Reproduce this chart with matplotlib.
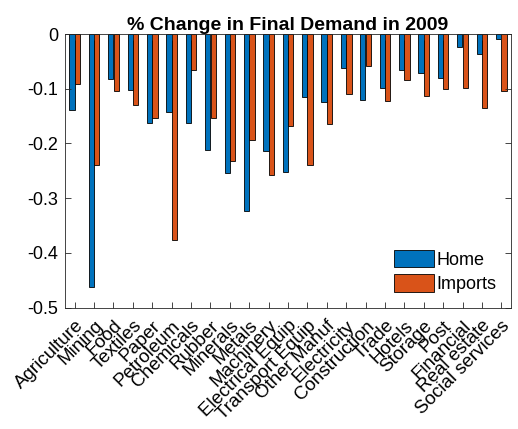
import matplotlib
matplotlib.use("Agg")
import matplotlib.pyplot as plt
import numpy as np

categories = ["Agriculture", "Mining", "Food", "Textiles", "Paper", "Petroleum",
              "Chemicals", "Rubber", "Minerals", "Metals", "Machinery",
              "Electrical Equip", "Transport Equip", "Other Manuf", "Electricity",
              "Construction", "Trade", "Hotels", "Storage", "Post", "Financial",
              "Real estate", "Social services"]
home = [-0.139, -0.462, -0.082, -0.102, -0.162, -0.142, -0.163, -0.212, -0.254,
        -0.324, -0.213, -0.253, -0.115, -0.125, -0.063, -0.121, -0.098, -0.065,
        -0.071, -0.080, -0.024, -0.036, -0.009]
imports = [-0.092, -0.240, -0.104, -0.130, -0.154, -0.377, -0.066, -0.154, -0.232,
           -0.193, -0.257, -0.168, -0.240, -0.165, -0.110, -0.059, -0.122, -0.084,
           -0.114, -0.101, -0.099, -0.135, -0.104]
yticks = [0, -0.1, -0.2, -0.3, -0.4, -0.5]
ytick_labels = ["0", "-0.1", "-0.2", "-0.3", "-0.4", "-0.5"]

plt.rcParams['font.family'] = ['Liberation Sans', 'DejaVu Sans']

fig = plt.figure(figsize=(5.18, 4.29), dpi=100)
ax = fig.add_axes([0.1255, 0.2832, 0.861, 0.6375])

n = len(categories)
x = np.arange(1, n + 1)
w = 0.27
ax.bar(x - 0.14, home, width=w, color='#0072BD', edgecolor='black', linewidth=0.6, label='Home')
ax.bar(x + 0.14, imports, width=w, color='#D95319', edgecolor='black', linewidth=0.6, label='Imports')

ax.set_xlim(0.5, n + 0.5)
ax.set_ylim(-0.5, 0)
ax.set_yticks(yticks)
ax.set_yticklabels(ytick_labels, fontsize=13)
ax.set_xticks(x)
ax.set_xticklabels(categories, rotation=45, ha='right', rotation_mode='anchor', fontsize=13.5)
ax.tick_params(direction='in', top=True, right=True, length=4, width=0.6, color='#262626',
               labelcolor='black')
ax.tick_params(axis='x', pad=7)
ax.tick_params(axis='y', pad=5)
for s in ax.spines.values():
    s.set_color('#262626')
    s.set_linewidth(0.6)
ax.set_title('% Change in Final Demand in 2009', fontsize=14, fontweight='bold', pad=3)

leg = ax.legend(loc='lower right', fontsize=13, frameon=True, fancybox=False,
                handlelength=2.2, handleheight=1.1, handletextpad=0.15,
                borderaxespad=0.5, labelspacing=0.3, borderpad=0.3)
leg.get_frame().set_edgecolor('white')
leg.get_frame().set_linewidth(0.6)

fig.savefig('out.png', dpi=100)
